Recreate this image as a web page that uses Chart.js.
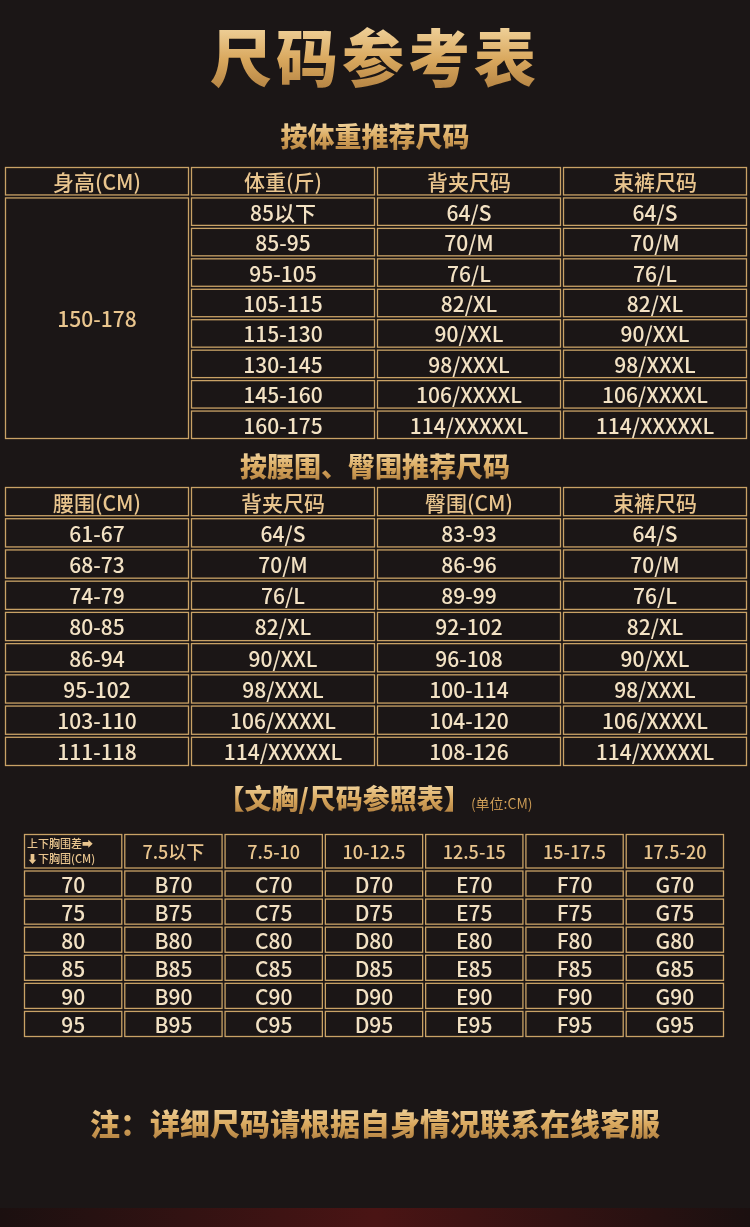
<!DOCTYPE html>
<html lang="zh">
<head>
<meta charset="UTF-8">
<title>尺码参考表</title>
<script src="https://cdn.jsdelivr.net/npm/chart.js"></script>
<style>
  body { margin: 0; width: 750px; height: 1227px; background: #1b1616; position: relative; overflow: hidden;
         font-family: "Noto Sans CJK SC", sans-serif; }
  .gold { position: absolute; left: 0; width: 750px; text-align: center; font-weight: 900;
          background: linear-gradient(180deg, #fbe6b8 0%, #d9a85e 55%, #a8773a 100%);
          -webkit-background-clip: text; background-clip: text; color: transparent; }
  .box { position: absolute; }
  .strip { position: absolute; left: 0; top: 1208px; width: 750px; height: 19px;
           background: linear-gradient(90deg, #1b1010, #4a1414 50%, #1b1010); }
</style>
</head>
<body>
<div class="gold" style="top:10px;font-size:62px;letter-spacing:4px;">尺码参考表</div>
<div class="gold" style="top:116px;font-size:27px;">按体重推荐尺码</div>
<div class="box" style="left:4px;top:166px;width:744px;height:274px;"><canvas id="t1"></canvas></div>
<div class="gold" style="top:446px;font-size:27px;">按腰围、臀围推荐尺码</div>
<div class="box" style="left:4px;top:486px;width:744px;height:281px;"><canvas id="t2"></canvas></div>
<div class="gold" style="top:778px;font-size:27px;">【文胸/尺码参照表】<span style="font-size:14px;font-weight:400;">(单位:CM)</span></div>
<div class="box" style="left:23px;top:833px;width:702px;height:205px;"><canvas id="t3"></canvas></div>
<div class="gold" style="top:1100px;font-size:30px;">注：详细尺码请根据自身情况联系在线客服</div>
<div class="strip"></div>
<script>
// table 1: by weight
const t1Headers = ['身高(CM)', '体重(斤)', '背夹尺码', '束裤尺码'];
const t1Height = '150-178';
const t1Weights = ['85以下', '85-95', '95-105', '105-115', '115-130', '130-145', '145-160', '160-175'];
const sizes = ['64/S', '70/M', '76/L', '82/XL', '90/XXL', '98/XXXL', '106/XXXXL', '114/XXXXXL'];
// table 2: by waist / hip
const t2Headers = ['腰围(CM)', '背夹尺码', '臀围(CM)', '束裤尺码'];
const t2Waist = ['61-67', '68-73', '74-79', '80-85', '86-94', '95-102', '103-110', '111-118'];
const t2Hip = ['83-93', '86-96', '89-99', '92-102', '96-108', '100-114', '104-120', '108-126'];
// table 3: bra
const t3Diff = ['7.5以下', '7.5-10', '10-12.5', '12.5-15', '15-17.5', '17.5-20'];
const t3Under = ['70', '75', '80', '85', '90', '95'];
const t3Cups = ['B', 'C', 'D', 'E', 'F', 'G'];

const LINE = '#c9a266';
const HEAD = '#e9c58e';
const BODY = '#f3e2c4';

function tableChart(id, rows, cols, cells, yMin) {
  const plugin = {
    id: 'cells',
    afterDraw(chart) {
      const { ctx, scales: { x, y } } = chart;
      ctx.save();
      for (const cell of cells) {
        const x0 = x.getPixelForValue(cell.c - 0.5), x1 = x.getPixelForValue(cell.c + 0.5);
        const y0 = y.getPixelForValue(cell.top ?? cell.r - 0.5), y1 = y.getPixelForValue((cell.r2 ?? cell.r) + 0.5);
        ctx.strokeStyle = LINE;
        ctx.lineWidth = 1.3;
        ctx.strokeRect(x0 + 1.5, y0 + 1.5, x1 - x0 - 3, y1 - y0 - 3);
        ctx.fillStyle = cell.color || BODY;
        ctx.textAlign = 'center';
        ctx.textBaseline = 'middle';
        if (cell.lines) {
          ctx.font = '500 11px "Noto Sans CJK SC"';
          ctx.textAlign = 'left';
          ctx.fillText(cell.lines[0], x0 + 4, y0 + 11);
          ctx.fillText(cell.lines[1], x0 + 4, y1 - 11);
        } else {
          ctx.font = '500 ' + (cell.size || 21) + 'px "Noto Sans CJK SC"';
          ctx.fillText(cell.text, (x0 + x1) / 2, (y0 + y1) / 2 + 1);
        }
      }
      ctx.restore();
    }
  };
  return new Chart(document.getElementById(id), {
    type: 'scatter',
    data: { datasets: [{ data: [] }] },
    options: {
      responsive: true, maintainAspectRatio: false, animation: false,
      layout: { padding: 0 },
      plugins: { legend: { display: false }, tooltip: { enabled: false } },
      scales: {
        x: { type: 'linear', display: false, min: -0.5, max: cols - 0.5 },
        y: { type: 'linear', display: false, min: yMin ?? -0.5, max: rows - 0.5, reverse: true }
      }
    },
    plugins: [plugin]
  });
}

const c1 = [];
t1Headers.forEach((h, c) => c1.push({ r: 0, c, text: h, color: HEAD }));
c1.push({ r: 1, r2: t1Weights.length, c: 0, text: t1Height, color: HEAD });
t1Weights.forEach((w, i) => {
  c1.push({ r: i + 1, c: 1, text: w });
  c1.push({ r: i + 1, c: 2, text: sizes[i] });
  c1.push({ r: i + 1, c: 3, text: sizes[i] });
});
tableChart('t1', t1Weights.length + 1, 4, c1);

const c2 = [];
t2Headers.forEach((h, c) => c2.push({ r: 0, c, text: h, color: HEAD }));
t2Waist.forEach((w, i) => {
  c2.push({ r: i + 1, c: 0, text: w });
  c2.push({ r: i + 1, c: 1, text: sizes[i] });
  c2.push({ r: i + 1, c: 2, text: t2Hip[i] });
  c2.push({ r: i + 1, c: 3, text: sizes[i] });
});
tableChart('t2', t2Waist.length + 1, 4, c2);

const c3 = [];
c3.push({ r: 0, top: -0.8, c: 0, lines: ['上下胸围差➡', '⬇下胸围(CM)'], color: HEAD });
t3Diff.forEach((d, i) => c3.push({ r: 0, top: -0.8, c: i + 1, text: d, color: HEAD, size: 18 }));
t3Under.forEach((u, r) => {
  c3.push({ r: r + 1, c: 0, text: u });
  t3Cups.forEach((cup, i) => c3.push({ r: r + 1, c: i + 1, text: cup + u }));
});
tableChart('t3', t3Under.length + 1, t3Diff.length + 1, c3, -0.8);
</script>
</body>
</html>
